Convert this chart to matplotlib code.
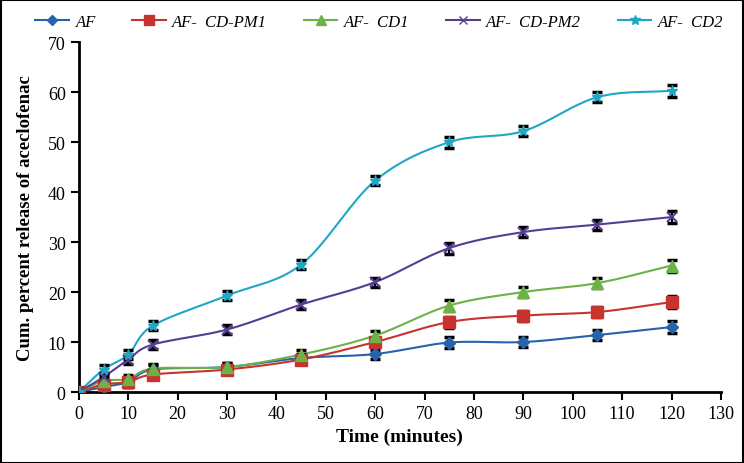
import numpy as np
import matplotlib.pyplot as plt
from matplotlib.patches import Rectangle

plt.rcParams['font.family'] = ['Liberation Serif', 'DejaVu Serif']

# time points (minutes)
t = [0, 5, 10, 15, 30, 45, 60, 75, 90, 105, 120]

af        = [0, 1.0, 2.0, 4.5, 5.0, 6.8, 7.6, 9.9, 10.0, 11.4, 13.0]
af_cdpm1  = [0, 1.5, 2.0, 3.5, 4.5, 6.5, 10.0, 14.0, 15.3, 16.0, 18.0]
af_cd1    = [0, 2.2, 2.6, 4.7, 5.0, 7.5, 11.3, 17.3, 20.0, 21.8, 25.3]
af_cdpm2  = [0, 3.0, 6.5, 9.5, 12.5, 17.5, 22.0, 28.8, 32.0, 33.5, 35.0]
af_cd2    = [0, 4.5, 7.5, 13.3, 19.3, 25.5, 42.3, 50.0, 52.2, 59.0, 60.3]

err = [0.3, 0.9, 0.9, 0.9, 0.9, 0.9, 0.9, 1.1, 1.0, 1.0, 1.2]

labels = ['AF', 'AF-  CD-PM1', 'AF-  CD1', 'AF-  CD-PM2', 'AF-  CD2']
series = [af, af_cdpm1, af_cd1, af_cdpm2, af_cd2]
colors = ['#2563ad', '#c7332f', '#6cb247', '#563d93', '#1fa7c4']
markers = ['D', 's', '^', 'x', '*']
msizes = [6, 8, 8, 7, 8]


def smooth(x, y, n=20):
    # catmull-rom style smoothing like excel "smoothed line"
    x = np.asarray(x, float)
    y = np.asarray(y, float)
    px = np.concatenate([[2 * x[0] - x[1]], x, [2 * x[-1] - x[-2]]])
    py = np.concatenate([[2 * y[0] - y[1]], y, [2 * y[-1] - y[-2]]])
    xs, ys = [], []
    s = np.linspace(0, 1, n, endpoint=False)
    for i in range(1, len(px) - 2):
        p0, p1, p2, p3 = px[i - 1], px[i], px[i + 1], px[i + 2]
        q0, q1, q2, q3 = py[i - 1], py[i], py[i + 1], py[i + 2]
        for arr, a0, a1, a2, a3 in ((xs, p0, p1, p2, p3), (ys, q0, q1, q2, q3)):
            arr.extend(0.5 * (2 * a1 + (-a0 + a2) * s + (2 * a0 - 5 * a1 + 4 * a2 - a3) * s ** 2
                              + (-a0 + 3 * a1 - 3 * a2 + a3) * s ** 3))
    xs.append(x[-1])
    ys.append(y[-1])
    return xs, ys


fig = plt.figure(figsize=(7.44, 4.64), dpi=100)
ax = fig.add_axes([0.106, 0.153, 0.863, 0.754])

handles = []
for y, lab, c, m, ms in zip(series, labels, colors, markers, msizes):
    sx, sy = smooth(t, y)
    ax.plot(sx, sy, color=c, lw=1.5, zorder=2)
    ax.errorbar(t, y, yerr=err, fmt='none', ecolor='black', elinewidth=1.5,
                capsize=3.5, capthick=2.5, zorder=3)
    ax.plot(t, y, ls='none', marker=m, color=c, ms=ms, mew=1.5 if m == 'x' else 1,
            zorder=4)
    h, = ax.plot([], [], color=c, lw=1.5, marker=m, ms=ms - 1, label=lab)
    handles.append(h)

ax.set_xlim(0, 130)
ax.set_ylim(0, 70)
ax.set_xticks(range(0, 131, 10))
ax.set_yticks(range(0, 71, 10))
ax.spines['top'].set_visible(False)
ax.spines['right'].set_visible(False)
ax.spines['left'].set_linewidth(2)
ax.spines['bottom'].set_linewidth(2)
ax.tick_params(direction='out', length=6, width=1.5, labelsize=13)
ax.set_xlabel('Time (minutes)', fontsize=14, fontweight='bold', labelpad=4)
ax.set_ylabel('Cum. percent release of aceclofenac', fontsize=13.5, fontweight='bold', labelpad=10)

fig.legend(handles=handles, loc='upper center', ncol=5, frameon=False,
           bbox_to_anchor=(0.51, 1.0), prop={'style': 'italic', 'size': 12},
           handlelength=2.0, columnspacing=2.2, handletextpad=0.4)

fig.patches.append(Rectangle((0.001, 0.001), 0.997, 0.997, transform=fig.transFigure,
                             fill=False, ec='black', lw=1.5))

fig.savefig('out.png', dpi=100)
